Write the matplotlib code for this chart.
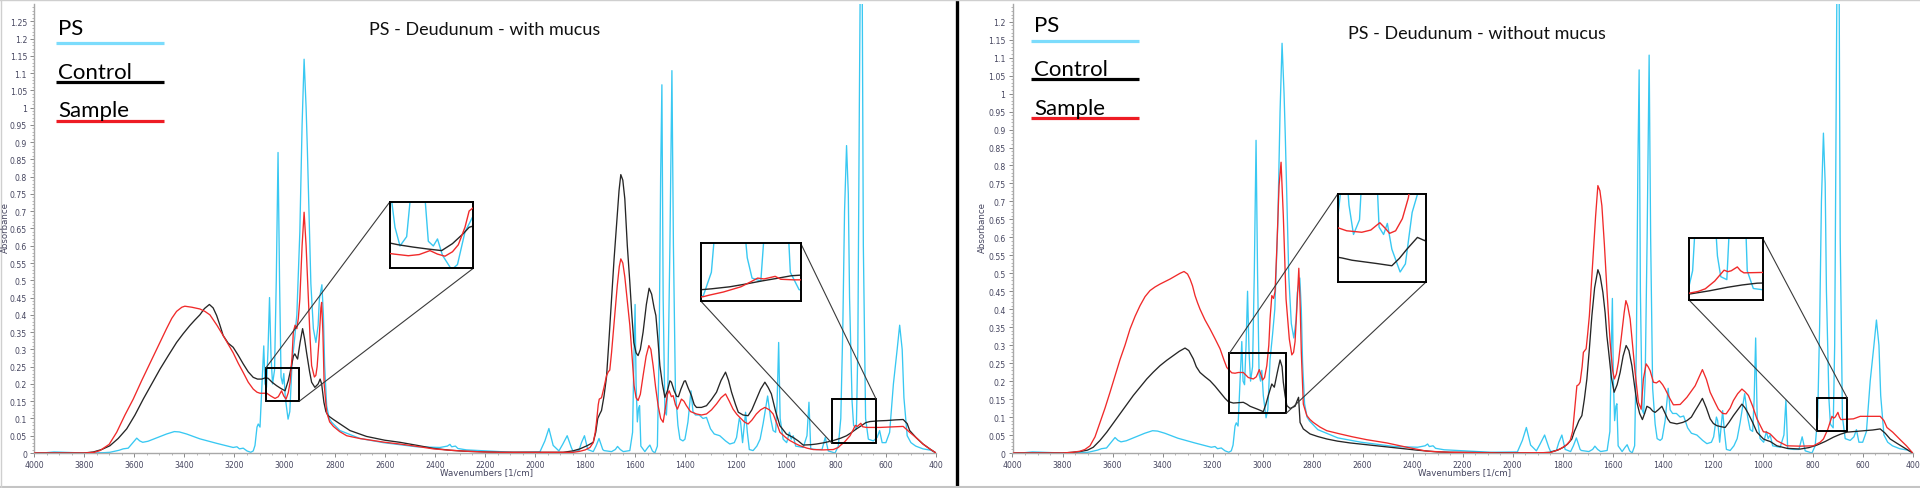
import matplotlib

matplotlib.use("Agg")
import matplotlib.pyplot as plt
import numpy as np
from matplotlib.lines import Line2D
from matplotlib.patches import ConnectionPatch, Rectangle
from matplotlib.ticker import FormatStrFormatter, MultipleLocator

W, H = 1920, 489

# (wavenumber [1/cm], absorbance)
PS = [
    (4000, 0.0), (3950, 0.001), (3920, 0.003), (3880, 0.002), (3800, 0.0), (3720, 0.001),
    (3697, 0.002), (3660, 0.008), (3644, 0.012), (3624, 0.014), (3605, 0.03), (3590, 0.043),
    (3578, 0.035), (3566, 0.031), (3545, 0.034), (3524, 0.04), (3471, 0.055), (3440, 0.062),
    (3420, 0.061), (3391, 0.055), (3338, 0.041), (3271, 0.028), (3205, 0.016), (3190, 0.018),
    (3180, 0.012), (3165, 0.014), (3150, 0.006), (3135, 0.002), (3125, 0.006), (3118, 0.022),
    (3110, 0.075), (3105, 0.084), (3098, 0.075), (3090, 0.2), (3083, 0.31), (3078, 0.2),
    (3072, 0.19), (3066, 0.3), (3060, 0.45), (3054, 0.28), (3048, 0.2), (3040, 0.24),
    (3033, 0.5), (3026, 0.87), (3020, 0.5), (3014, 0.22), (3008, 0.2), (3003, 0.23),
    (2997, 0.16), (2986, 0.098), (2979, 0.12), (2970, 0.26), (2960, 0.33), (2951, 0.4),
    (2939, 0.64), (2930, 0.95), (2922, 1.14), (2914, 1.0), (2909, 0.88), (2895, 0.49),
    (2885, 0.36), (2875, 0.32), (2866, 0.37), (2861, 0.446), (2851, 0.487), (2845, 0.4),
    (2840, 0.253), (2832, 0.137), (2822, 0.1), (2812, 0.089), (2779, 0.065), (2699, 0.042),
    (2606, 0.03), (2473, 0.018), (2380, 0.016), (2350, 0.02), (2340, 0.025), (2333, 0.018),
    (2318, 0.02), (2308, 0.013), (2274, 0.009), (2140, 0.004), (2087, 0.002), (1981, 0.003),
    (1961, 0.035), (1945, 0.071), (1928, 0.022), (1905, 0.006), (1890, 0.025), (1872, 0.05),
    (1855, 0.015), (1848, 0.004), (1825, 0.007), (1815, 0.03), (1803, 0.05), (1790, 0.01),
    (1768, 0.004), (1757, 0.02), (1745, 0.042), (1730, 0.01), (1725, 0.007), (1695, 0.004),
    (1680, 0.01), (1671, 0.019), (1660, 0.01), (1648, 0.004), (1622, 0.007), (1611, 0.06),
    (1605, 0.3), (1601, 0.43), (1597, 0.2), (1592, 0.09), (1587, 0.13), (1583, 0.137),
    (1578, 0.02), (1562, 0.004), (1550, 0.016), (1542, 0.023), (1532, 0.006), (1522, 0.0),
    (1512, 0.02), (1505, 0.3), (1499, 0.8), (1494, 1.066), (1489, 0.45), (1482, 0.12),
    (1476, 0.11), (1470, 0.2), (1462, 0.6), (1454, 1.107), (1448, 0.6), (1440, 0.18),
    (1430, 0.08), (1422, 0.04), (1410, 0.035), (1402, 0.04), (1390, 0.09), (1378, 0.18),
    (1370, 0.12), (1360, 0.11), (1345, 0.11), (1330, 0.1), (1316, 0.103), (1300, 0.07),
    (1285, 0.055), (1263, 0.05), (1240, 0.035), (1223, 0.026), (1205, 0.03), (1196, 0.045),
    (1185, 0.1), (1180, 0.09), (1172, 0.03), (1160, 0.118), (1153, 0.06), (1145, 0.01),
    (1130, 0.007), (1115, 0.02), (1102, 0.04), (1090, 0.085), (1072, 0.165), (1060, 0.1),
    (1050, 0.065), (1040, 0.06), (1034, 0.15), (1028, 0.32), (1022, 0.1), (1010, 0.04),
    (996, 0.03), (985, 0.06), (978, 0.04), (970, 0.05), (960, 0.02), (930, 0.016),
    (915, 0.05), (907, 0.147), (900, 0.012), (877, 0.01), (855, 0.01), (842, 0.045),
    (830, 0.006), (803, 0.0), (790, 0.02), (780, 0.1), (772, 0.36), (765, 0.7),
    (757, 0.89), (750, 0.75), (745, 0.45), (735, 0.15), (729, 0.08), (718, 0.07),
    (712, 0.3), (706, 1.0), (700, 1.6), (696, 1.6), (690, 0.6), (681, 0.1),
    (670, 0.04), (650, 0.035), (635, 0.045), (625, 0.065), (615, 0.03), (600, 0.03),
    (585, 0.06), (570, 0.2), (555, 0.3), (545, 0.37), (535, 0.3), (528, 0.16),
    (515, 0.05), (500, 0.03), (481, 0.02), (452, 0.012), (420, 0.008), (400, 0.0),
]

CONTROL_MUCUS = [
    (4000, 0.0), (3800, 0.0), (3763, 0.003), (3730, 0.01), (3697, 0.021), (3664, 0.042),
    (3630, 0.07), (3597, 0.11), (3564, 0.156), (3530, 0.2), (3497, 0.243), (3464, 0.282),
    (3431, 0.32), (3405, 0.345), (3378, 0.369), (3358, 0.385), (3338, 0.4), (3320, 0.418),
    (3300, 0.43), (3285, 0.42), (3271, 0.398), (3258, 0.37), (3245, 0.34), (3225, 0.318),
    (3205, 0.306), (3185, 0.283), (3165, 0.258), (3145, 0.235), (3125, 0.219), (3108, 0.214),
    (3091, 0.214), (3075, 0.218), (3065, 0.216), (3050, 0.205), (3032, 0.195), (3015, 0.187),
    (2998, 0.18), (2985, 0.21), (2972, 0.253), (2965, 0.28), (2959, 0.287), (2952, 0.277),
    (2948, 0.272), (2938, 0.32), (2928, 0.36), (2920, 0.33), (2912, 0.29), (2900, 0.235),
    (2892, 0.205), (2879, 0.19), (2866, 0.2), (2858, 0.214), (2852, 0.2), (2843, 0.147),
    (2835, 0.12), (2826, 0.108), (2805, 0.097), (2770, 0.08), (2739, 0.065), (2700, 0.055),
    (2673, 0.048), (2600, 0.037), (2540, 0.031), (2470, 0.022), (2407, 0.0135), (2340, 0.008),
    (2274, 0.005), (2200, 0.003), (2140, 0.002), (1888, 0.002), (1850, 0.006), (1821, 0.012),
    (1790, 0.022), (1768, 0.031), (1758, 0.06), (1750, 0.1), (1742, 0.113), (1735, 0.123),
    (1725, 0.165), (1715, 0.22), (1705, 0.33), (1695, 0.446), (1685, 0.56), (1675, 0.66),
    (1665, 0.76), (1658, 0.806), (1650, 0.79), (1642, 0.736), (1632, 0.6), (1622, 0.494),
    (1614, 0.4), (1606, 0.32), (1597, 0.29), (1589, 0.282), (1580, 0.3), (1569, 0.35),
    (1556, 0.43), (1545, 0.477), (1535, 0.46), (1525, 0.42), (1518, 0.398), (1510, 0.33),
    (1502, 0.253), (1492, 0.2), (1482, 0.161), (1472, 0.18), (1462, 0.209), (1456, 0.205),
    (1445, 0.18), (1435, 0.164), (1428, 0.163), (1418, 0.185), (1405, 0.208), (1400, 0.209),
    (1390, 0.19), (1376, 0.166), (1365, 0.14), (1356, 0.132), (1336, 0.132), (1316, 0.137),
    (1296, 0.155), (1276, 0.176), (1258, 0.21), (1240, 0.234), (1228, 0.21), (1216, 0.176),
    (1200, 0.14), (1189, 0.118), (1170, 0.11), (1150, 0.108), (1135, 0.125), (1117, 0.156),
    (1100, 0.185), (1083, 0.205), (1070, 0.19), (1057, 0.171), (1040, 0.12), (1023, 0.079),
    (997, 0.055), (970, 0.045), (950, 0.035), (930, 0.023), (900, 0.024), (877, 0.026),
    (845, 0.03), (810, 0.036), (780, 0.043), (757, 0.05), (740, 0.058), (717, 0.07),
    (700, 0.078), (680, 0.088), (664, 0.091), (630, 0.093), (597, 0.094), (560, 0.096),
    (531, 0.097), (515, 0.085), (505, 0.065), (480, 0.045), (452, 0.026), (425, 0.012),
    (400, 0.0),
]

SAMPLE_MUCUS = [
    (4000, 0.0), (3800, 0.0), (3760, 0.002), (3737, 0.007), (3700, 0.025), (3670, 0.06),
    (3637, 0.11), (3604, 0.156), (3570, 0.21), (3537, 0.26), (3504, 0.31), (3471, 0.36),
    (3450, 0.39), (3431, 0.41), (3410, 0.422), (3398, 0.425), (3370, 0.422), (3338, 0.417),
    (3318, 0.41), (3298, 0.4), (3270, 0.37), (3245, 0.34), (3225, 0.315), (3205, 0.29),
    (3185, 0.26), (3165, 0.233), (3145, 0.205), (3125, 0.185), (3110, 0.176), (3098, 0.173),
    (3071, 0.173), (3055, 0.165), (3038, 0.158), (3025, 0.163), (3012, 0.18), (3003, 0.165),
    (2994, 0.156), (2985, 0.175), (2978, 0.205), (2970, 0.28), (2965, 0.35), (2958, 0.37),
    (2951, 0.36), (2945, 0.39), (2939, 0.446), (2930, 0.6), (2922, 0.697), (2914, 0.6),
    (2905, 0.446), (2898, 0.33), (2892, 0.253), (2881, 0.22), (2875, 0.225), (2870, 0.25),
    (2862, 0.33), (2855, 0.42), (2852, 0.436), (2847, 0.35), (2842, 0.2), (2832, 0.118),
    (2820, 0.09), (2805, 0.077), (2780, 0.062), (2752, 0.05), (2700, 0.042), (2673, 0.039),
    (2600, 0.031), (2540, 0.026), (2470, 0.019), (2407, 0.012), (2340, 0.008), (2274, 0.005),
    (2200, 0.003), (2140, 0.002), (1900, 0.002), (1848, 0.002), (1821, 0.005), (1800, 0.009),
    (1781, 0.016), (1768, 0.03), (1760, 0.06), (1755, 0.09), (1748, 0.14), (1744, 0.156),
    (1735, 0.16), (1725, 0.19), (1715, 0.224), (1708, 0.235), (1702, 0.24), (1695, 0.29),
    (1688, 0.35), (1680, 0.42), (1672, 0.485), (1664, 0.54), (1658, 0.562), (1650, 0.55),
    (1642, 0.51), (1632, 0.44), (1622, 0.37), (1613, 0.28), (1605, 0.195), (1597, 0.16),
    (1589, 0.152), (1580, 0.17), (1569, 0.224), (1557, 0.28), (1546, 0.311), (1538, 0.3),
    (1529, 0.253), (1519, 0.19), (1509, 0.137), (1499, 0.1), (1489, 0.089), (1480, 0.13),
    (1472, 0.17), (1465, 0.18), (1456, 0.163), (1449, 0.166), (1440, 0.14), (1432, 0.127),
    (1425, 0.14), (1416, 0.156), (1406, 0.15), (1396, 0.137), (1380, 0.12), (1356, 0.113),
    (1336, 0.11), (1316, 0.113), (1296, 0.125), (1276, 0.142), (1258, 0.16), (1240, 0.171),
    (1225, 0.15), (1210, 0.127), (1195, 0.112), (1183, 0.103), (1165, 0.09), (1150, 0.084),
    (1135, 0.095), (1117, 0.113), (1100, 0.125), (1083, 0.132), (1065, 0.125), (1050, 0.113),
    (1035, 0.085), (1023, 0.06), (1000, 0.045), (983, 0.036), (960, 0.027), (943, 0.021),
    (915, 0.014), (890, 0.01), (850, 0.009), (810, 0.01), (790, 0.016), (783, 0.021),
    (765, 0.032), (743, 0.05), (730, 0.068), (722, 0.08), (714, 0.077), (706, 0.082),
    (700, 0.086), (693, 0.076), (677, 0.074), (624, 0.074), (560, 0.076), (531, 0.077),
    (505, 0.06), (480, 0.045), (452, 0.026), (425, 0.012), (400, 0.0),
]

CONTROL_NO_MUCUS = [
    (4000, 0.0), (3800, 0.0), (3760, 0.002), (3730, 0.004), (3700, 0.008), (3677, 0.016),
    (3650, 0.035), (3623, 0.058), (3597, 0.083), (3570, 0.109), (3543, 0.135), (3517, 0.16),
    (3490, 0.183), (3463, 0.206), (3437, 0.225), (3410, 0.243), (3383, 0.258), (3357, 0.271),
    (3333, 0.283), (3310, 0.292), (3295, 0.285), (3277, 0.262), (3265, 0.24), (3250, 0.224),
    (3230, 0.212), (3210, 0.201), (3190, 0.186), (3170, 0.169), (3150, 0.152), (3137, 0.143),
    (3117, 0.139), (3097, 0.14), (3077, 0.141), (3063, 0.136), (3050, 0.13), (3035, 0.126),
    (3017, 0.121), (2997, 0.115), (2987, 0.135), (2977, 0.16), (2963, 0.192), (2953, 0.183),
    (2941, 0.224), (2930, 0.259), (2922, 0.24), (2917, 0.197), (2910, 0.16), (2903, 0.132),
    (2890, 0.124), (2870, 0.13), (2862, 0.145), (2856, 0.155), (2850, 0.085), (2837, 0.067),
    (2810, 0.053), (2780, 0.046), (2743, 0.039), (2700, 0.033), (2650, 0.028), (2583, 0.023),
    (2517, 0.018), (2450, 0.013), (2383, 0.008), (2300, 0.003), (2250, 0.002), (1900, 0.0),
    (1850, 0.002), (1820, 0.008), (1797, 0.016), (1780, 0.025), (1763, 0.039), (1753, 0.06),
    (1743, 0.076), (1735, 0.09), (1723, 0.104), (1713, 0.15), (1703, 0.206), (1693, 0.29),
    (1683, 0.382), (1672, 0.46), (1659, 0.51), (1650, 0.493), (1639, 0.447), (1630, 0.39),
    (1623, 0.326), (1617, 0.289), (1605, 0.21), (1594, 0.169), (1582, 0.19), (1570, 0.224),
    (1558, 0.27), (1546, 0.299), (1535, 0.285), (1523, 0.243), (1513, 0.19), (1503, 0.141),
    (1492, 0.11), (1481, 0.093), (1472, 0.11), (1463, 0.13), (1450, 0.125), (1440, 0.117),
    (1430, 0.113), (1418, 0.12), (1403, 0.13), (1390, 0.11), (1380, 0.095), (1370, 0.085),
    (1343, 0.081), (1320, 0.085), (1303, 0.09), (1285, 0.1), (1270, 0.118), (1255, 0.135),
    (1241, 0.152), (1225, 0.125), (1210, 0.095), (1197, 0.082), (1183, 0.076), (1165, 0.073),
    (1150, 0.071), (1135, 0.085), (1117, 0.104), (1100, 0.12), (1083, 0.136), (1070, 0.125),
    (1057, 0.109), (1040, 0.085), (1023, 0.058), (997, 0.039), (983, 0.035), (970, 0.032),
    (943, 0.02), (903, 0.013), (850, 0.011), (815, 0.015), (783, 0.022), (750, 0.032),
    (717, 0.044), (690, 0.052), (663, 0.058), (630, 0.06), (597, 0.062), (560, 0.064),
    (530, 0.067), (510, 0.055), (490, 0.039), (463, 0.027), (437, 0.016), (415, 0.007),
    (400, 0.0),
]

SAMPLE_NO_MUCUS = [
    (4000, 0.0), (3800, 0.0), (3760, 0.002), (3730, 0.005), (3710, 0.01), (3690, 0.02),
    (3670, 0.045), (3650, 0.085), (3630, 0.125), (3610, 0.169), (3590, 0.215), (3570, 0.26),
    (3550, 0.3), (3530, 0.345), (3510, 0.38), (3490, 0.41), (3470, 0.435), (3450, 0.452),
    (3430, 0.462), (3410, 0.47), (3390, 0.477), (3370, 0.484), (3350, 0.492), (3330, 0.5),
    (3314, 0.505), (3300, 0.498), (3290, 0.484), (3280, 0.465), (3270, 0.438), (3260, 0.418),
    (3250, 0.4), (3230, 0.37), (3210, 0.345), (3190, 0.318), (3170, 0.29), (3155, 0.26),
    (3143, 0.238), (3123, 0.223), (3110, 0.222), (3097, 0.224), (3077, 0.224), (3057, 0.21),
    (3037, 0.206), (3025, 0.212), (3013, 0.232), (3005, 0.215), (3000, 0.203), (2992, 0.21),
    (2983, 0.243), (2975, 0.3), (2970, 0.373), (2963, 0.438), (2956, 0.43), (2950, 0.45),
    (2943, 0.568), (2934, 0.744), (2926, 0.809), (2917, 0.66), (2906, 0.428), (2893, 0.317),
    (2883, 0.273), (2876, 0.28), (2870, 0.31), (2863, 0.4), (2855, 0.514), (2850, 0.42),
    (2845, 0.28), (2837, 0.136), (2823, 0.104), (2810, 0.093), (2797, 0.085), (2770, 0.072),
    (2743, 0.062), (2690, 0.053), (2640, 0.045), (2583, 0.037), (2503, 0.028), (2423, 0.016),
    (2343, 0.005), (2250, 0.002), (2050, 0.0), (1850, 0.001), (1810, 0.011), (1785, 0.022),
    (1770, 0.034), (1760, 0.06), (1754, 0.104), (1748, 0.15), (1743, 0.187), (1736, 0.19),
    (1730, 0.197), (1722, 0.24), (1717, 0.28), (1706, 0.29), (1700, 0.33), (1693, 0.382),
    (1685, 0.47), (1677, 0.558), (1668, 0.66), (1659, 0.744), (1651, 0.73), (1643, 0.688),
    (1633, 0.58), (1623, 0.456), (1610, 0.308), (1600, 0.23), (1593, 0.206), (1585, 0.22),
    (1577, 0.252), (1563, 0.336), (1554, 0.39), (1547, 0.424), (1540, 0.41), (1530, 0.373),
    (1520, 0.3), (1510, 0.224), (1497, 0.141), (1486, 0.122), (1477, 0.206), (1466, 0.248),
    (1458, 0.24), (1450, 0.229), (1437, 0.197), (1425, 0.195), (1413, 0.201), (1400, 0.19),
    (1390, 0.178), (1370, 0.15), (1357, 0.134), (1330, 0.135), (1303, 0.155), (1270, 0.187),
    (1255, 0.21), (1241, 0.232), (1225, 0.205), (1210, 0.169), (1190, 0.14), (1177, 0.122),
    (1160, 0.11), (1146, 0.109), (1130, 0.125), (1117, 0.146), (1100, 0.165), (1083, 0.178),
    (1070, 0.17), (1057, 0.16), (1040, 0.13), (1023, 0.095), (997, 0.059), (985, 0.058),
    (970, 0.053), (943, 0.034), (903, 0.02), (850, 0.019), (797, 0.02), (770, 0.03),
    (757, 0.039), (740, 0.065), (723, 0.102), (716, 0.097), (710, 0.1), (699, 0.113),
    (693, 0.1), (687, 0.093), (660, 0.094), (637, 0.095), (610, 0.102), (580, 0.102),
    (530, 0.102), (515, 0.09), (503, 0.071), (480, 0.058), (450, 0.037), (425, 0.02),
    (410, 0.008), (400, 0.0),
]

TITLES = ["PS - Deudunum - with mucus", "PS - Deudunum - without mucus"]
LEGEND_LABELS = ["PS", "Control", "Sample"]
X_LABEL = "Wavenumbers [1/cm]"
Y_LABEL = "Absorbance"

CYAN = "#38c8f2"
BLACK = "#262626"
RED = "#f02a2a"
LEG_COLORS = ["#7cdcfc", "#000000", "#ee1c24"]
TICK_COLOR = "#45455f"
AXIS_COLOR = "#a8a8a8"

TEXT_FONT = ["Lato", "DejaVu Sans"]


def fig_rect(x0, y0, x1, y1):
    # pixel box (top-left origin) -> figure fraction [left, bottom, width, height]
    return [x0 / W, 1 - y1 / H, (x1 - x0) / W, (y1 - y0) / H]


def fx(x):
    return x / W


def fy(y):
    return 1 - y / H


PANELS = [
    {
        "rect": (34, 5, 936, 454),
        "ylim": (0, 1.2999),
        "ytop": 1.25,
        "control": CONTROL_MUCUS,
        "sample": SAMPLE_MUCUS,
        "title": (485, 35),
        "xlabel": (487, 473),
        "ylabel": (5, 228),
        "legend_x": (56, 164),
        "legend_text_x": 58,
        "legend_text_y": [35, 79, 117],
        "legend_line_y": [44, 83, 122],
        "insets": [
            {"box": (390, 202.7, 473.3, 269.3), "src": (3075, 2941, 0.15, 0.246),
             "view": ((3060, 2960), (0.104, 0.39)), "links": [("tl", "tl"), ("br", "br")]},
            {"box": (701, 244.3, 800.7, 302.3), "src": (815, 639, 0.028, 0.156),
             "view": ((793, 668), (0.0, 0.2)), "links": [("bl", "bl"), ("tr", "tr")]},
        ],
    },
    {
        "rect": (1012.5, 5, 1912.7, 454),
        "ylim": (0, 1.2493),
        "ytop": 1.2,
        "control": CONTROL_NO_MUCUS,
        "sample": SAMPLE_NO_MUCUS,
        "title": (1477, 39),
        "xlabel": (1464, 473),
        "ylabel": (982, 228),
        "legend_x": (1031, 1139),
        "legend_text_x": 1034,
        "legend_text_y": [32, 76, 115],
        "legend_line_y": [41.7, 80, 119],
        "insets": [
            {"box": (1337.7, 195, 1425.7, 283.3), "src": (3133, 2906, 0.11, 0.277),
             "view": ((3069, 2952), (0.07, 0.31)), "links": [("tl", "tl"), ("br", "br")]},
            {"box": (1689.3, 239.3, 1762.7, 301.3), "src": (783, 661, 0.06, 0.152),
             "view": ((786, 653), (0.0, 0.21)), "links": [("bl", "bl"), ("tr", "tr")]},
        ],
    },
]


def draw_spectra(ax, control, sample, lw):
    for data, color, z in [(PS, CYAN, 1), (control, BLACK, 2), (sample, RED, 3)]:
        arr = np.asarray(data, dtype=float)
        ax.plot(arr[:, 0], arr[:, 1], color=color, lw=lw, zorder=z, solid_joinstyle="round")


def corner_data(src, key):
    hi_wn, lo_wn, ylo, yhi = src
    x = hi_wn if key[1] == "l" else lo_wn
    y = yhi if key[0] == "t" else ylo
    return x, y


def corner_axes(key):
    return (0 if key[1] == "l" else 1, 1 if key[0] == "t" else 0)


def style_axes(ax, panel):
    ax.set_xlim(4000, 400)
    ax.set_ylim(*panel["ylim"])
    ax.set_xticks(np.arange(4000, 399, -200))
    ax.xaxis.set_minor_locator(MultipleLocator(50))
    ax.set_yticks(np.round(np.arange(0, panel["ytop"] + 0.001, 0.05), 2))
    ax.yaxis.set_minor_locator(MultipleLocator(0.01))
    ax.yaxis.set_major_formatter(FormatStrFormatter("%g"))
    for side in ["top", "right"]:
        ax.spines[side].set_visible(False)
    for side in ["left", "bottom"]:
        ax.spines[side].set_color(AXIS_COLOR)
        ax.spines[side].set_linewidth(1.0)
    ax.tick_params(which="major", length=3, width=0.7, color="#8a8a8a",
                   labelsize=5.6, labelcolor=TICK_COLOR, pad=2)
    ax.tick_params(which="minor", length=1.6, width=0.5, color="#9a9a9a")
    ax.set_facecolor("white")


def main():
    fig = plt.figure(figsize=(W / 100, H / 100), dpi=100)
    fig.patch.set_facecolor("white")

    for panel in PANELS:
        ax = fig.add_axes(fig_rect(*panel["rect"]))
        draw_spectra(ax, panel["control"], panel["sample"], lw=0.95)
        style_axes(ax, panel)

        fig.text(fx(panel["title"][0]), fy(panel["title"][1]), TITLES[PANELS.index(panel)],
                 ha="center", va="baseline", fontsize=13, family=TEXT_FONT, color="#111111")
        fig.text(fx(panel["xlabel"][0]), fy(panel["xlabel"][1]), X_LABEL,
                 ha="center", va="center", fontsize=6.2, color=TICK_COLOR)
        fig.text(fx(panel["ylabel"][0]), fy(panel["ylabel"][1]), Y_LABEL, rotation=90,
                 ha="center", va="center", fontsize=6.2, color=TICK_COLOR)

        x0, x1 = panel["legend_x"]
        for label, color, ty, ly in zip(LEGEND_LABELS, LEG_COLORS,
                                        panel["legend_text_y"], panel["legend_line_y"]):
            fig.text(fx(panel["legend_text_x"]), fy(ty), label, ha="left", va="baseline",
                     fontsize=16, family=TEXT_FONT, color="#000000")
            fig.add_artist(Line2D([fx(x0), fx(x1)], [fy(ly), fy(ly)], transform=fig.transFigure,
                                  color=color, lw=2.3, solid_capstyle="butt"))

        for ins in panel["insets"]:
            hi_wn, lo_wn, ylo, yhi = ins["src"]
            ax.add_patch(Rectangle((lo_wn, ylo), hi_wn - lo_wn, yhi - ylo, fill=False,
                                   ec="black", lw=1.4, zorder=6))
            iax = fig.add_axes(fig_rect(*ins["box"]))
            draw_spectra(iax, panel["control"], panel["sample"], lw=1.0)
            iax.set_xlim(*ins["view"][0])
            iax.set_ylim(*ins["view"][1])
            iax.set_xticks([])
            iax.set_yticks([])
            iax.set_facecolor("white")
            for spine in iax.spines.values():
                spine.set_color("black")
                spine.set_linewidth(1.4)
            iax.set_zorder(5)
            for src_key, dst_key in ins["links"]:
                con = ConnectionPatch(xyA=corner_data(ins["src"], src_key), coordsA=ax.transData,
                                      xyB=corner_axes(dst_key), coordsB=iax.transAxes,
                                      color="#3a3a3a", lw=0.8)
                fig.add_artist(con)

    # panel divider and light outer frame
    fig.add_artist(Line2D([fx(956.5), fx(956.5)], [fy(0), fy(487)], transform=fig.transFigure,
                          color="black", lw=2.4))
    fig.add_artist(Line2D([0, 1], [fy(0.6), fy(0.6)], transform=fig.transFigure,
                          color="#cfcfcf", lw=1.0))
    fig.add_artist(Line2D([0, 1], [fy(487.5), fy(487.5)], transform=fig.transFigure,
                          color="#c4c4c4", lw=1.5))
    fig.add_artist(Line2D([fx(0.6), fx(0.6)], [0, 1], transform=fig.transFigure,
                          color="#cfcfcf", lw=1.0))

    fig.savefig("out.png", dpi=100, facecolor="white")
    plt.close(fig)


if __name__ == "__main__":
    main()
